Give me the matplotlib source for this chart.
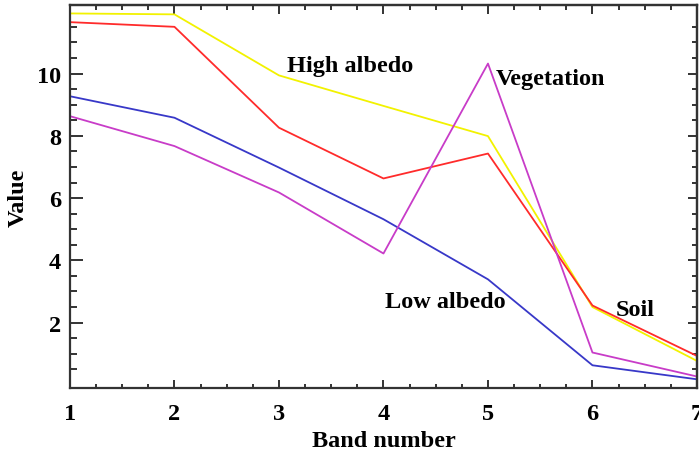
import numpy as np
import matplotlib.pyplot as plt
from matplotlib.ticker import FixedLocator, MultipleLocator

plt.rcParams['font.family'] = 'Liberation Serif'
plt.rcParams['font.weight'] = 'bold'
plt.rcParams['axes.labelweight'] = 'bold'
plt.rcParams['font.size'] = 17.5

# spectral profiles per band
bands = [1, 2, 3, 4, 5, 6, 7]
high_albedo = [11.93, 11.90, 9.94, 8.96, 7.99, 2.50, 0.77]
soil = [11.65, 11.50, 8.26, 6.63, 7.43, 2.55, 0.93]
low_albedo = [9.27, 8.58, 6.98, 5.32, 3.39, 0.63, 0.18]
vegetation = [8.63, 7.67, 6.18, 4.22, 10.32, 1.04, 0.27]

fig = plt.figure(figsize=(6.99, 4.56), dpi=100)
ax = fig.add_axes([0.1001, 0.1469, 0.8970, 0.8399])

ax.plot(bands, high_albedo, color='#f2f200', lw=1.3)
ax.plot(bands, soil, color='#ff2b2b', lw=1.3)
ax.plot(bands, low_albedo, color='#3838c8', lw=1.3)
ax.plot(bands, vegetation, color='#c83cc8', lw=1.3)

ax.text(3.08, 10.26, 'High albedo', va='center', ha='left')
ax.text(5.07, 9.84, 'Vegetation', va='center', ha='left')
ax.text(4.01, 2.69, 'Low albedo', va='center', ha='left')
ax.text(6.22, 2.43, 'Soil', va='center', ha='left')

ax.set_xlim(1, 7)
ax.set_ylim(-0.1, 12.2)

ax.xaxis.set_major_locator(MultipleLocator(1))
ax.xaxis.set_minor_locator(MultipleLocator(0.25))
ax.yaxis.set_major_locator(FixedLocator([2, 4, 6, 8, 10]))
ax.yaxis.set_minor_locator(FixedLocator(np.arange(0.5, 11.6, 0.5)))

spine_col = '#333333'
for s in ax.spines.values():
    s.set_linewidth(1.6)
    s.set_color(spine_col)

ax.tick_params(axis='both', which='both', direction='in', color=spine_col, width=1.4)
ax.tick_params(axis='x', which='major', length=6, pad=11)
ax.tick_params(axis='x', which='minor', length=3)
ax.tick_params(axis='y', which='major', length=9.5, pad=6.5)
ax.tick_params(axis='y', which='minor', length=5)

# top and right axes carry ticks only
top = ax.secondary_xaxis('top')
top.xaxis.set_major_locator(MultipleLocator(1))
top.xaxis.set_minor_locator(MultipleLocator(0.25))
top.tick_params(which='both', direction='in', color=spine_col, width=1.4, labeltop=False)
top.tick_params(which='major', length=6.5)
top.tick_params(which='minor', length=3.5)
top.spines['top'].set_linewidth(1.6)
top.spines['top'].set_color(spine_col)

right = ax.secondary_yaxis('right')
right.yaxis.set_major_locator(FixedLocator([2, 4, 6, 8, 10]))
right.yaxis.set_minor_locator(FixedLocator(np.arange(0.5, 11.6, 0.5)))
right.tick_params(which='both', direction='in', color=spine_col, width=1.4, labelright=False)
right.tick_params(which='major', length=6.5)
right.tick_params(which='minor', length=3.5)
right.spines['right'].set_linewidth(1.6)
right.spines['right'].set_color(spine_col)

ax.set_xlabel('Band number', labelpad=4)
ax.set_ylabel('Value', labelpad=6)

fig.savefig('out.png', dpi=100)
